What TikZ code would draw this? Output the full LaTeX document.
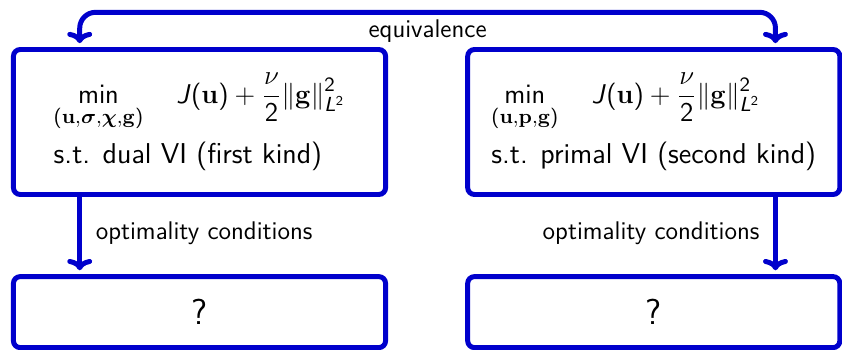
\documentclass[tikz,border=0pt]{standalone}
\usepackage{amsmath}
\usepackage{amssymb}
\usepackage{tikz}
\usetikzlibrary{arrows.meta,positioning,calc}
\definecolor{myblue}{RGB}{0,0,204}
\SetSymbolFont{operators}{normal}{OT1}{cmss}{m}{n}
\DeclareMathAlphabet{\mathsfit}{OT1}{cmss}{m}{sl}

\begin{document}
\begin{tikzpicture}[font=\sffamily\fontsize{11.3}{13}\selectfont,
    node distance=1.2cm,
    probbox/.style={draw=myblue,line width=2.2pt,rounded corners=3pt,
      minimum width=5.79cm,minimum height=2.256cm,align=left,
      font=\sffamily\fontsize{12.7}{15}\selectfont},
    ansbox/.style={draw=myblue,line width=2.2pt,rounded corners=3pt,
      minimum width=5.79cm,minimum height=1.105cm,
      font=\sffamily\fontsize{16}{18}\selectfont},
    flow/.style={draw=myblue,line width=2.2pt,-{To[length=5pt,width=11pt]}}]
  \useasboundingbox (0,0) rectangle (13.1,-5.445);

  % the two equivalent problems
  \node[probbox] (dual) at (3.104,-1.898)
    {$\displaystyle\min_{(\mathbf{u},\boldsymbol{\sigma},\boldsymbol{\chi},\mathbf{g})}
      \quad \mathsfit{J}(\mathbf{u})+\frac{\nu}{2}\|\mathbf{g}\|_{\mathsfit{L}^2}^2$\\[4pt]
     s.t. dual VI (first kind)};
  \node[probbox,right=of dual] (primal)
    {$\displaystyle\min_{(\mathbf{u},\mathbf{p},\mathbf{g})}
      \quad \mathsfit{J}(\mathbf{u})+\frac{\nu}{2}\|\mathbf{g}\|_{\mathsfit{L}^2}^2$\\[4pt]
     s.t. primal VI (second kind)};

  % unknown optimality systems
  \node[ansbox,below=of dual] (dualoc) {?};
  \node[ansbox,below=of primal] (primaloc) {?};

  \coordinate (eqL) at ($(dual.north west)+(1.07,0.06)$);
  \coordinate (eqR) at ($(primal.north east)+(-1.04,0.06)$);
  \coordinate (ocL) at ($(dualoc.north west)+(1.07,0.06)$);
  \coordinate (ocR) at ($(primaloc.north east)+(-1.04,0.06)$);

  \draw[flow,{To[length=5pt,width=11pt]}-{To[length=5pt,width=11pt]},rounded corners=7pt]
    (eqL) -- ++(0,0.48) -| (eqR)
    node[pos=0.25,below,inner sep=2pt,text=black] {equivalence};
  \draw[flow] (dual.south -| eqL) -- (ocL)
    node[midway,right,inner sep=6pt,text=black] {optimality conditions};
  \draw[flow] (primal.south -| eqR) -- (ocR)
    node[midway,left,inner sep=6pt,text=black] {optimality conditions};
\end{tikzpicture}
\end{document}
